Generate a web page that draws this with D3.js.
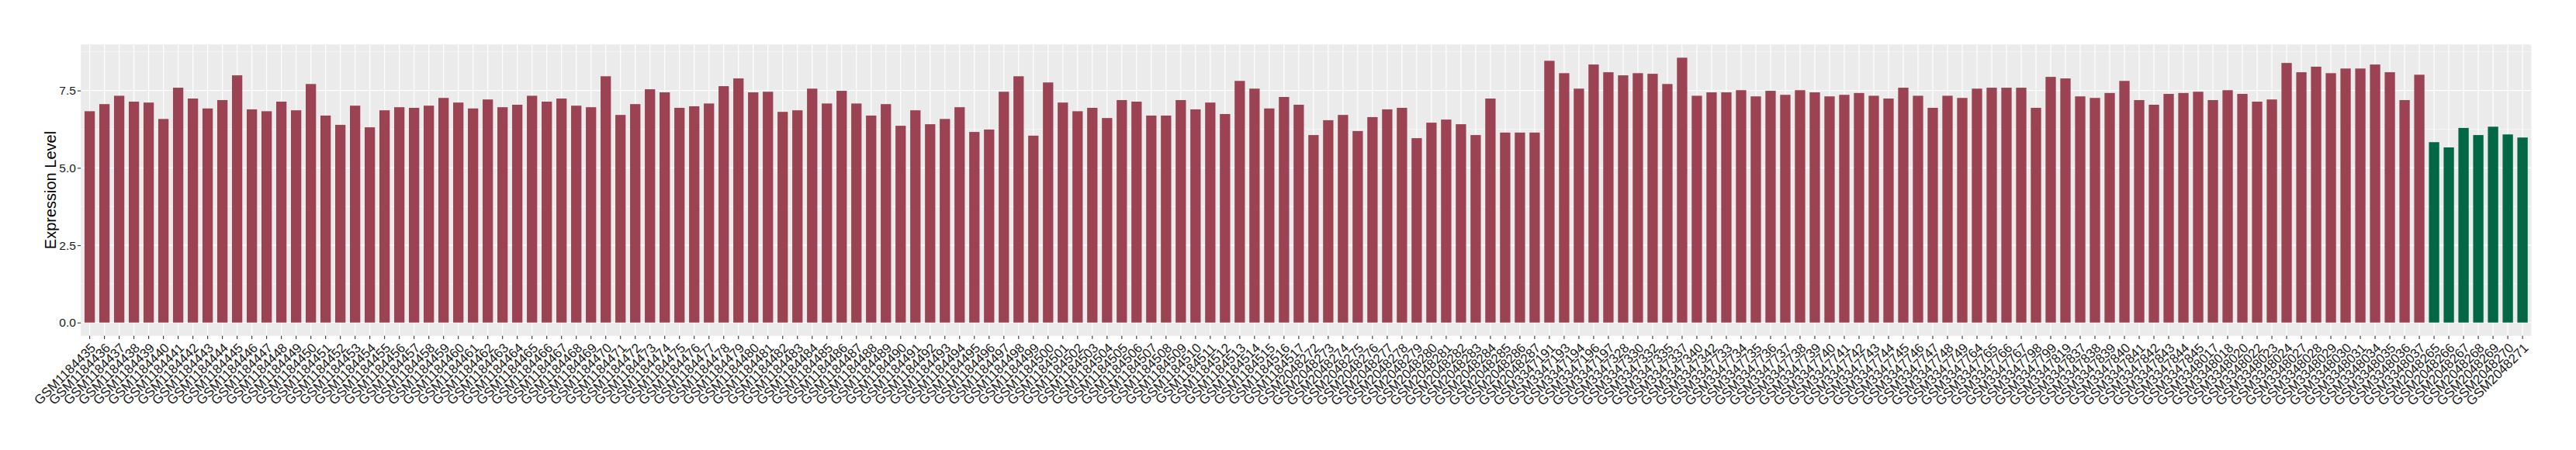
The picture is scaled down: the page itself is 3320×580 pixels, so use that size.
<!DOCTYPE html>
<html>
<head>
<meta charset="utf-8">
<script src="https://cdn.jsdelivr.net/npm/d3@7"></script>
<style>
  html, body { margin: 0; padding: 0; background: #ffffff; }
  svg { display: block; font-family: "Liberation Sans", Arial, sans-serif; }
</style>
</head>
<body>
<script>
// samples, in plotting order
var tumorSamples = [
  "GSM1184435","GSM1184436","GSM1184437","GSM1184438","GSM1184439","GSM1184440","GSM1184441","GSM1184442","GSM1184443","GSM1184444",
  "GSM1184445","GSM1184446","GSM1184447","GSM1184448","GSM1184449","GSM1184450","GSM1184451","GSM1184452","GSM1184453","GSM1184454",
  "GSM1184455","GSM1184456","GSM1184457","GSM1184458","GSM1184459","GSM1184460","GSM1184461","GSM1184462","GSM1184463","GSM1184464",
  "GSM1184465","GSM1184466","GSM1184467","GSM1184468","GSM1184469","GSM1184470","GSM1184471","GSM1184472","GSM1184473","GSM1184474",
  "GSM1184475","GSM1184476","GSM1184477","GSM1184478","GSM1184479","GSM1184480","GSM1184481","GSM1184482","GSM1184483","GSM1184484",
  "GSM1184485","GSM1184486","GSM1184487","GSM1184488","GSM1184489","GSM1184490","GSM1184491","GSM1184492","GSM1184493","GSM1184494",
  "GSM1184495","GSM1184496","GSM1184497","GSM1184498","GSM1184499","GSM1184500","GSM1184501","GSM1184502","GSM1184503","GSM1184504",
  "GSM1184505","GSM1184506","GSM1184507","GSM1184508","GSM1184509","GSM1184510","GSM1184511","GSM1184512","GSM1184513","GSM1184514",
  "GSM1184515","GSM1184516","GSM1184517",
  "GSM2048272","GSM2048273","GSM2048274","GSM2048275","GSM2048276","GSM2048277","GSM2048278","GSM2048279","GSM2048280","GSM2048281",
  "GSM2048282","GSM2048283","GSM2048284","GSM2048285","GSM2048286","GSM2048287",
  "GSM3347191","GSM3347193","GSM3347194","GSM3347196","GSM3347197","GSM3347328","GSM3347330","GSM3347332","GSM3347335","GSM3347337",
  "GSM3347340","GSM3347342",
  "GSM3347733","GSM3347734","GSM3347735","GSM3347736","GSM3347737","GSM3347738","GSM3347739","GSM3347740","GSM3347741","GSM3347742",
  "GSM3347743","GSM3347744","GSM3347745","GSM3347746","GSM3347747","GSM3347748","GSM3347749","GSM3347764","GSM3347765","GSM3347766",
  "GSM3347767","GSM3347798","GSM3347799","GSM3347819","GSM3347837","GSM3347838","GSM3347839","GSM3347840","GSM3347841","GSM3347842",
  "GSM3347843","GSM3347844","GSM3347845",
  "GSM3348017","GSM3348018","GSM3348020","GSM3348022","GSM3348023","GSM3348024","GSM3348027","GSM3348028","GSM3348029","GSM3348030",
  "GSM3348031","GSM3348034","GSM3348035","GSM3348036","GSM3348037"
];
var tumorValues = [
  6.83,7.06,7.33,7.14,7.11,6.58,7.59,7.24,6.92,7.19,
  7.99,6.89,6.83,7.14,6.86,7.71,6.69,6.39,7.01,6.31,
  6.86,6.96,6.94,7.01,7.26,7.11,6.92,7.21,6.96,7.04,
  7.33,7.14,7.24,7.01,6.96,7.96,6.71,7.06,7.54,7.44,
  6.94,6.99,7.08,7.64,7.89,7.44,7.46,6.81,6.86,7.56,
  7.08,7.49,7.08,6.69,7.06,6.36,6.86,6.41,6.58,6.96,
  6.16,6.24,7.46,7.96,6.04,7.76,7.11,6.83,6.94,6.61,
  7.19,7.14,6.69,6.69,7.19,6.89,7.11,6.74,7.81,7.56,
  6.92,7.29,7.04,
  6.06,6.54,6.71,6.19,6.64,6.89,6.94,5.96,6.46,6.56,
  6.41,6.06,7.24,6.14,6.14,6.14,
  8.46,8.06,7.56,8.34,8.09,7.99,8.06,8.04,7.71,8.56,
  7.33,7.44,
  7.44,7.51,7.31,7.49,7.36,7.51,7.44,7.31,7.36,7.42,
  7.33,7.24,7.59,7.33,6.94,7.33,7.26,7.56,7.59,7.59,
  7.59,6.94,7.94,7.89,7.31,7.26,7.42,7.81,7.19,7.04,
  7.39,7.42,7.46,
  7.19,7.51,7.39,7.14,7.21,8.39,8.09,8.27,8.06,8.21,
  8.21,8.34,8.09,7.19,8.01
];
var normalSamples = ["GSM2048265","GSM2048266","GSM2048267","GSM2048268","GSM2048269","GSM2048270","GSM2048271"];
var normalValues = [5.83,5.66,6.29,6.06,6.33,6.08,5.98];

var yTicks = [0, 2.5, 5, 7.5];
var yMinorTicks = [1.25, 3.75, 6.25, 8.75];
var groupColors = { tumor: "#9b4352", normal: "#026745" };

function barchart(){
  var width = 3320, height = 580;
  var margin = { top: 57.3, right: 57.5, bottom: 147.2, left: 104.2 };

  var rows = tumorSamples.map(function(s,i){ return { sample: s, value: tumorValues[i], group: "tumor" }; })
    .concat(normalSamples.map(function(s,i){ return { sample: s, value: normalValues[i], group: "normal" }; }));

  var x0 = margin.left, x1 = width - margin.right,
      y0 = height - margin.bottom, y1 = margin.top;

  var maxV = d3.max(rows, function(d){ return d.value; });

  var x = d3.scaleBand()
    .domain(rows.map(function(d){ return d.sample; }))
    .range([x0, x1])
    .paddingInner(0.3)
    .paddingOuter(0.25);

  var y = d3.scaleLinear()
    .domain([-0.05 * maxV, 1.05 * maxV])
    .range([y0, y1]);

  var svg = d3.select("body").append("svg")
    .attr("width", width)
    .attr("height", height);

  // panel
  svg.append("rect")
    .attr("x", x0).attr("y", y1)
    .attr("width", x1 - x0).attr("height", y0 - y1)
    .style("fill", "#ebebeb");

  var grid = svg.append("g");
  grid.selectAll(".minor")
      .data(yMinorTicks)
    .enter().append("line")
      .attr("x1", x0).attr("x2", x1)
      .attr("y1", function(d){ return y(d); })
      .attr("y2", function(d){ return y(d); })
      .style("stroke", "#ffffff")
      .style("stroke-width", 0.6);

  grid.selectAll(".major")
      .data(yTicks)
    .enter().append("line")
      .attr("x1", x0).attr("x2", x1)
      .attr("y1", function(d){ return y(d); })
      .attr("y2", function(d){ return y(d); })
      .style("stroke", "#ffffff")
      .style("stroke-width", 1.2);

  grid.selectAll(".vmajor")
      .data(rows)
    .enter().append("line")
      .attr("x1", function(d){ return x(d.sample) + x.bandwidth()/2; })
      .attr("x2", function(d){ return x(d.sample) + x.bandwidth()/2; })
      .attr("y1", y1).attr("y2", y0)
      .style("stroke", "#ffffff")
      .style("stroke-width", 1.2);

  svg.append("g").selectAll(".bar")
      .data(rows)
    .enter().append("rect")
      .attr("class", "bar")
      .attr("x", function(d){ return x(d.sample); })
      .attr("width", x.bandwidth())
      .attr("y", function(d){ return y(d.value); })
      .attr("height", function(d){ return y(0) - y(d.value); })
      .style("fill", function(d){ return groupColors[d.group]; });

  // y axis
  var yAxis = svg.append("g")
    .attr("transform", "translate(" + x0 + ",0)")
    .call(d3.axisLeft(y).tickValues(yTicks).tickFormat(d3.format(".1f")).tickSize(4.3).tickPadding(2));
  yAxis.select(".domain").remove();
  yAxis.selectAll(".tick line").style("stroke", "#333333").style("stroke-width", 1.1);
  yAxis.selectAll(".tick text")
    .style("font-size", "15.5px")
    .style("fill", "#1a1a1a")
    .style("font-family", "'Liberation Sans', Arial, sans-serif");

  // x axis, labels turned 45 degrees
  var xAxis = svg.append("g")
    .attr("transform", "translate(0," + y0 + ")")
    .call(d3.axisBottom(x).tickSize(4.3).tickSizeOuter(0));
  xAxis.select(".domain").remove();
  xAxis.selectAll(".tick line").style("stroke", "#333333").style("stroke-width", 1.1);
  xAxis.selectAll(".tick text")
    .attr("x", 0).attr("y", 0)
    .attr("dy", "0.72em")
    .attr("transform", "translate(0,8) rotate(-45)")
    .style("text-anchor", "end")
    .style("font-size", "17px")
    .style("fill", "#1a1a1a")
    .style("font-family", "'Liberation Sans', Arial, sans-serif");

  svg.append("text")
    .attr("transform", "translate(65," + ((y0 + y1)/2) + ") rotate(-90)")
    .attr("dy", "0.35em")
    .style("text-anchor", "middle")
    .style("font-size", "20px")
    .style("fill", "#000000")
    .text("Expression Level");
}

barchart();
</script>
</body>
</html>
